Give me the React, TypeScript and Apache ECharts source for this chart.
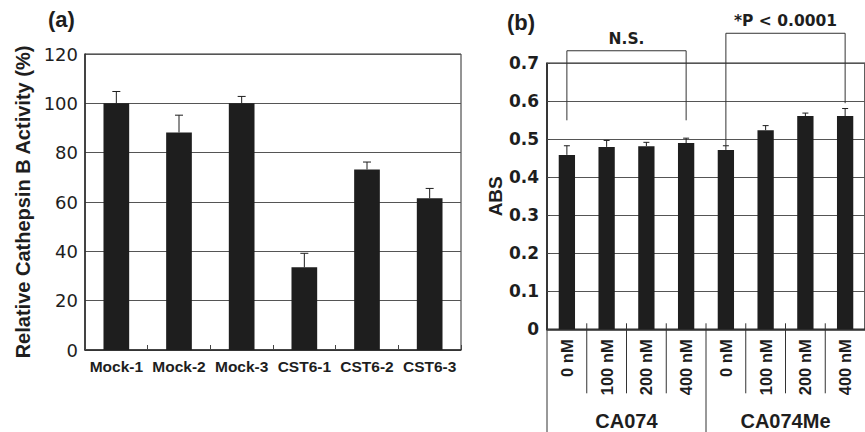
import React, { useEffect, useRef } from "react";
import * as echarts from "echarts";

// Panel (a)
const categoriesA = ["Mock-1", "Mock-2", "Mock-3", "CST6-1", "CST6-2", "CST6-3"];
const valuesA = [100, 88.2, 100, 33.5, 73.2, 61.5];
const errorsA = [4.8, 7, 2.8, 5.7, 3, 4];
const yTicksA = [0, 20, 40, 60, 80, 100, 120];

// Panel (b)
const dosesB = ["0 nM", "100 nM", "200 nM", "400 nM", "0 nM", "100 nM", "200 nM", "400 nM"];
const valuesB = [0.459, 0.48, 0.482, 0.49, 0.472, 0.524, 0.561, 0.561];
const errorsB = [0.024, 0.017, 0.01, 0.013, 0.011, 0.012, 0.008, 0.02];
const yTicksB = [0, 0.1, 0.2, 0.3, 0.4, 0.5, 0.6, 0.7];
const groupNames = ["CA074", "CA074Me"];
const groupSpans = [[0, 3], [4, 7]];
const bracketSpans = [[0, 3], [4, 7]];
const bracketTops = [0.733, 0.779];
const bracketLeftEnds = [0.55, 0.483];
const bracketRightEnds = [0.55, 0.595];
const bracketLabels = ["N.S.", "*P < 0.0001"];

const SANS = "Liberation Sans, Arial, sans-serif";
const WIDE = "DejaVu Sans, Verdana, sans-serif";
const INK = "#1e1e1e";

export default function App() {
  const ref = useRef<HTMLDivElement>(null);
  useEffect(() => {
    if (!ref.current) return;
    const chart = echarts.init(ref.current, undefined, { renderer: "svg" });

    const errorRender = (cap: number) => (params: any, api: any) => {
      const i = api.value(0);
      const v = api.value(1);
      const e = api.value(2);
      const pb = api.coord([i, v]);
      const pt = api.coord([i, v + e]);
      const st = { stroke: INK, lineWidth: 1 };
      return {
        type: "group",
        children: [
          { type: "line", shape: { x1: pb[0], y1: pb[1], x2: pt[0], y2: pt[1] }, style: st },
          { type: "line", shape: { x1: pt[0] - cap, y1: pt[1], x2: pt[0] + cap, y2: pt[1] }, style: st },
        ],
      };
    };

    const option: any = {
      animation: false,
      backgroundColor: "#ffffff",
      grid: [
        { left: 85, top: 54, width: 376, height: 296, show: true, borderColor: "#2a2a2a", borderWidth: 1, containLabel: false },
        { left: 547, top: 63.3, width: 328, height: 266, show: true, borderColor: "#2a2a2a", borderWidth: 1.5, containLabel: false },
      ],
      xAxis: [
        {
          type: "category",
          gridIndex: 0,
          data: categoriesA,
          axisLine: { show: true, lineStyle: { color: "#2a2a2a", width: 1.5 } },
          axisTick: { show: true, inside: true, length: 5, interval: 0, lineStyle: { color: "#444" } },
          axisLabel: { interval: 0, margin: 8, color: INK, fontFamily: SANS, fontWeight: "bold", fontSize: 15.5 },
          splitLine: { show: false },
        },
        {
          type: "category",
          gridIndex: 1,
          data: dosesB,
          axisLine: { show: true, lineStyle: { color: "#2a2a2a", width: 1.5 } },
          axisTick: { show: false },
          axisLabel: { interval: 0, rotate: 90, margin: 10, color: INK, fontFamily: SANS, fontWeight: "bold", fontSize: 16.5 },
          splitLine: { show: false },
        },
      ],
      yAxis: [
        {
          type: "value",
          gridIndex: 0,
          min: yTicksA[0],
          max: yTicksA[yTicksA.length - 1],
          interval: yTicksA[1] - yTicksA[0],
          axisLine: { show: true, lineStyle: { color: "#2a2a2a", width: 1.5 } },
          axisTick: { show: false },
          axisLabel: { margin: 7, color: INK, fontFamily: WIDE, fontSize: 18 },
          splitLine: { show: true, lineStyle: { color: "#555", width: 1 } },
          name: "Relative Cathepsin B Activity (%)",
          nameLocation: "middle",
          nameGap: 52,
          nameTextStyle: { color: INK, fontFamily: SANS, fontWeight: "bold", fontSize: 20 },
        },
        {
          type: "value",
          gridIndex: 1,
          min: yTicksB[0],
          max: yTicksB[yTicksB.length - 1],
          interval: 0.1,
          axisLine: { show: true, lineStyle: { color: "#2a2a2a", width: 1.5 } },
          axisTick: { show: true, inside: true, length: 3, lineStyle: { color: "#444" } },
          axisLabel: { margin: 8, color: INK, fontFamily: WIDE, fontWeight: "bold", fontSize: 17 },
          splitLine: { show: true, lineStyle: { color: "#555", width: 1 } },
          name: "ABS",
          nameLocation: "middle",
          nameGap: 19,
          nameTextStyle: { color: INK, fontFamily: SANS, fontWeight: "bold", fontSize: 19 },
        },
      ],
      graphic: [
        { type: "text", left: 48, top: 8, style: { text: "(a)", fontFamily: SANS, fontWeight: "bold", fontSize: 22, fill: INK } },
        { type: "text", left: 507, top: 11, style: { text: "(b)", fontFamily: SANS, fontWeight: "bold", fontSize: 22, fill: INK } },
      ],
      series: [
        {
          type: "bar",
          xAxisIndex: 0,
          yAxisIndex: 0,
          data: valuesA,
          barWidth: "41%",
          itemStyle: { color: INK },
          z: 2,
        },
        {
          type: "custom",
          xAxisIndex: 0,
          yAxisIndex: 0,
          data: valuesA.map((v, i) => [i, v, errorsA[i]]),
          encode: { x: 0, y: [1, 2] },
          renderItem: errorRender(4),
          clip: false,
          z: 3,
        },
        {
          type: "bar",
          xAxisIndex: 1,
          yAxisIndex: 1,
          data: valuesB,
          barWidth: "41%",
          itemStyle: { color: INK },
          z: 2,
        },
        {
          type: "custom",
          xAxisIndex: 1,
          yAxisIndex: 1,
          data: valuesB.map((v, i) => [i, v, errorsB[i]]),
          encode: { x: 0, y: [1, 2] },
          renderItem: errorRender(3),
          clip: false,
          z: 3,
        },
        // separators under the (b) axis
        {
          type: "custom",
          xAxisIndex: 1,
          yAxisIndex: 1,
          data: dosesB.map((_, i) => [i, 0]),
          encode: { x: 0, y: 1 },
          clip: false,
          silent: true,
          z: 4,
          renderItem: (params: any, api: any) => {
            const i = api.value(0);
            const p = api.coord([i, 0]);
            const bw = api.size([1, 0])[0];
            const x = p[0] - bw / 2;
            const isStart = groupSpans.some((s) => s[0] === i);
            return {
              type: "line",
              shape: { x1: x, y1: p[1] - 6, x2: x, y2: isStart ? p[1] + 104 : p[1] + 64 },
              style: { stroke: "#333", lineWidth: 1 },
            };
          },
        },
        // group labels
        {
          type: "custom",
          xAxisIndex: 1,
          yAxisIndex: 1,
          data: groupSpans.map((s) => [s[0], s[1], 0]),
          encode: { x: [0, 1], y: 2 },
          clip: false,
          silent: true,
          z: 4,
          renderItem: (params: any, api: any) => {
            const a = api.coord([api.value(0), 0]);
            const b = api.coord([api.value(1), 0]);
            return {
              type: "text",
              style: {
                text: groupNames[params.dataIndex],
                x: (a[0] + b[0]) / 2,
                y: a[1] + 92,
                align: "center",
                verticalAlign: "middle",
                fontFamily: SANS,
                fontWeight: "bold",
                fontSize: 20,
                fill: INK,
              },
            };
          },
        },
        // significance brackets
        {
          type: "custom",
          xAxisIndex: 1,
          yAxisIndex: 1,
          data: bracketSpans.map((s, i) => [s[0], s[1], bracketTops[i], bracketLeftEnds[i], bracketRightEnds[i]]),
          encode: { x: [0, 1], y: [2, 3, 4] },
          clip: false,
          silent: true,
          z: 5,
          renderItem: (params: any, api: any) => {
            const x0 = api.value(0);
            const x1 = api.value(1);
            const top = api.value(2);
            const l = api.value(3);
            const r = api.value(4);
            const pTL = api.coord([x0, top]);
            const pTR = api.coord([x1, top]);
            const pL = api.coord([x0, l]);
            const pR = api.coord([x1, r]);
            const st = { stroke: "#333", lineWidth: 1, fill: "none" };
            return {
              type: "group",
              children: [
                {
                  type: "polyline",
                  shape: { points: [[pL[0], pL[1]], [pTL[0], pTL[1]], [pTR[0], pTR[1]], [pR[0], pR[1]]] },
                  style: st,
                },
                {
                  type: "text",
                  style: {
                    text: bracketLabels[params.dataIndex],
                    x: (pTL[0] + pTR[0]) / 2,
                    y: pTL[1] - 4,
                    align: "center",
                    verticalAlign: "bottom",
                    fontFamily: WIDE,
                    fontWeight: "bold",
                    fontSize: 15.5,
                    fill: INK,
                  },
                },
              ],
            };
          },
        },
      ],
    };
    chart.setOption(option);
    return () => chart.dispose();
  }, []);
  return (
    <div
      ref={ref}
      style={{ position: "fixed", left: 0, top: 0, width: 865, height: 432, background: "#fff" }}
    />
  );
}
